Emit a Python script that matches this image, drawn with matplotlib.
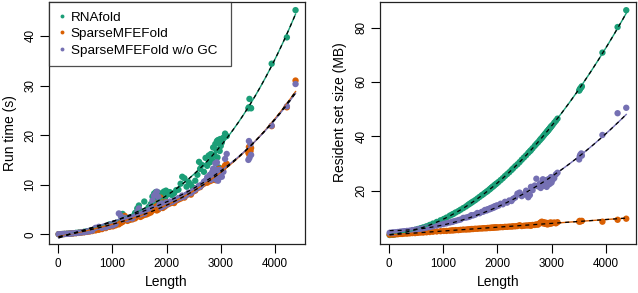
import numpy as np
import matplotlib
matplotlib.use("Agg")
import matplotlib.pyplot as plt
from matplotlib.lines import Line2D

plt.rcParams['font.family'] = ['Liberation Sans', 'DejaVu Sans']

# ---------------- data ----------------
lengths = [10, 60, 90, 120, 160, 200, 240, 280, 330, 380,
           430, 480, 530, 580, 630, 690, 750, 810, 880, 950,
           1010, 1060, 1120, 1160, 1190, 1230, 1280, 1320, 1370, 1420,
           1460, 1490, 1520, 1550, 1590, 1630, 1670, 1710, 1740, 1770,
           1800, 1820, 1850, 1870, 1890, 1910, 1930, 1950, 1970, 1990,
           2020, 2060, 2100, 2140, 2180, 2220, 2260, 2290, 2330, 2370,
           2410, 2450, 2490, 2530, 2570, 2600, 2620, 2650, 2690, 2720,
           2750, 2780, 2800, 2820, 2840, 2860, 2880, 2900, 2910, 2920,
           2930, 2940, 2950, 2960, 2970, 2980, 2990, 3000, 3020, 3050,
           3080, 3110, 3510, 3520, 3530, 3550, 3560, 3940, 4220, 4380]

runtime_rnafold = [0.02, 0.03, 0.05, 0.07, 0.10, 0.13, 0.17, 0.22, 0.28, 0.35,
                   0.42, 0.50, 0.60, 0.70, 0.80, 0.95, 1.10, 1.30, 1.60, 2.00,
                   1.8, 2.0, 2.3, 3.9, 4.1, 3.0, 3.2, 3.0, 3.5, 4.3,
                   5.2, 5.8, 4.6, 4.2, 6.6, 4.6, 5.5, 6.1, 7.6, 8.2,
                   8.5, 7.0, 8.4, 6.3, 7.4, 8.0, 6.8, 8.6, 7.2, 8.8,
                   8.0, 8.5, 7.9, 8.3, 8.9, 9.0, 10.2, 11.6, 11.3, 9.6,
                   10.5, 10.0, 9.4, 10.8, 12.0, 14.6, 13.2, 14.0, 12.6, 15.4,
                   13.8, 15.9, 14.5, 16.2, 15.0, 17.5, 16.0, 18.2, 12.5, 17.0,
                   18.8, 15.5, 19.0, 13.5, 18.5, 16.8, 19.2, 17.8, 18.5, 19.5,
                   20.3, 19.8, 25.4, 25.6, 27.3, 25.5, 25.4, 34.4, 39.7, 45.2]

runtime_sparse = [0.02, 0.03, 0.04, 0.06, 0.08, 0.10, 0.14, 0.18, 0.22, 0.28,
                  0.34, 0.40, 0.48, 0.56, 0.65, 0.78, 0.90, 1.05, 1.25, 1.50,
                  1.6, 1.8, 2.0, 2.3, 2.5, 3.7, 2.7, 2.9, 3.0, 3.2,
                  3.6, 4.4, 3.5, 3.7, 3.9, 4.0, 4.2, 4.4, 4.8, 5.2,
                  6.2, 4.8, 5.0, 5.3, 7.4, 5.5, 5.3, 5.8, 5.6, 6.5,
                  6.0, 6.2, 6.4, 6.3, 6.8, 7.0, 7.2, 7.5, 7.4, 7.9,
                  8.2, 8.0, 8.6, 8.8, 9.3, 9.6, 9.5, 9.9, 10.2, 10.6,
                  10.4, 11.0, 10.7, 11.5, 10.9, 11.8, 11.2, 12.2, 10.9, 12.4,
                  11.3, 12.9, 11.8, 12.0, 13.2, 11.6, 12.6, 12.0, 12.8, 13.4,
                  13.9, 14.2, 16.4, 17.6, 16.0, 16.8, 17.4, 21.8, 25.6, 31.0]

runtime_nogc = [0.02, 0.03, 0.05, 0.07, 0.09, 0.12, 0.15, 0.20, 0.25, 0.30,
                0.37, 0.44, 0.52, 0.62, 0.75, 1.30, 1.50, 1.30, 1.40, 1.70,
                1.8, 2.1, 4.2, 3.6, 3.0, 3.3, 3.0, 3.4, 3.2, 3.8,
                4.5, 5.2, 4.0, 4.4, 4.2, 4.8, 5.0, 5.6, 6.8, 7.8,
                8.2, 8.6, 7.5, 6.0, 5.4, 6.2, 5.6, 6.0, 5.8, 6.4,
                6.1, 6.6, 6.5, 6.8, 7.0, 7.3, 7.4, 7.8, 7.6, 8.0,
                8.4, 8.3, 8.7, 9.0, 9.4, 9.8, 9.6, 10.0, 10.6, 10.8,
                11.5, 11.2, 12.0, 11.0, 12.5, 13.2, 11.8, 14.3, 13.0, 11.0,
                14.5, 12.2, 10.8, 12.5, 11.4, 13.0, 11.8, 12.4, 11.6, 12.6,
                15.2, 16.2, 15.0, 18.8, 15.4, 18.2, 16.0, 21.9, 25.8, 30.3]

memory_rnafold = [3.7, 3.8, 3.9, 4.0, 4.1, 4.3, 4.4, 4.6, 4.8, 5.0,
                  5.3, 5.6, 5.9, 6.2, 6.5, 6.9, 7.4, 7.9, 8.5, 9.1,
                  9.6, 10.1, 10.8, 11.2, 11.5, 12.0, 12.5, 13.0, 13.6, 14.2,
                  14.8, 15.2, 15.6, 16.0, 16.5, 17.1, 17.7, 18.3, 18.7, 19.2,
                  19.6, 19.9, 20.4, 20.7, 21.1, 21.4, 21.7, 22.1, 22.4, 22.7,
                  23.2, 23.9, 24.6, 25.4, 26.1, 26.8, 27.6, 28.2, 29.0, 29.7,
                  30.5, 31.4, 32.2, 33.0, 33.9, 34.5, 34.9, 35.6, 36.5, 37.2,
                  37.8, 38.5, 39.0, 39.4, 39.9, 40.4, 40.9, 41.3, 41.6, 41.8,
                  42.0, 42.3, 42.5, 42.8, 43.0, 43.3, 43.5, 43.8, 44.2, 45.0,
                  45.7, 46.5, 56.8, 57.2, 57.6, 58.0, 58.4, 70.8, 80.2, 86.4]

memory_sparse = [3.8, 3.9, 3.9, 4.0, 4.0, 4.1, 4.1, 4.2, 4.2, 4.3,
                 4.4, 4.4, 4.5, 4.6, 4.6, 4.7, 4.8, 4.9, 5.0, 5.1,
                 5.2, 5.2, 5.3, 5.4, 5.4, 5.5, 5.5, 5.6, 5.7, 5.7,
                 5.8, 5.8, 5.9, 5.9, 6.0, 6.0, 6.1, 6.1, 6.2, 6.2,
                 6.2, 6.3, 6.3, 6.3, 6.4, 6.4, 6.4, 6.5, 6.5, 6.5,
                 6.5, 6.6, 6.6, 6.7, 6.7, 6.8, 6.8, 6.9, 6.9, 7.0,
                 7.3, 7.0, 7.1, 7.2, 7.2, 7.3, 7.1, 7.4, 7.4, 7.6,
                 7.5, 8.0, 8.3, 8.6, 8.0, 8.4, 7.8, 8.2, 7.7, 8.0,
                 7.6, 7.9, 8.1, 7.8, 8.2, 7.9, 8.3, 8.0, 8.1, 8.3,
                 8.0, 8.4, 8.6, 8.9, 8.7, 8.8, 8.9, 8.6, 9.3, 9.7]

memory_nogc = [4.5, 4.6, 4.6, 4.7, 4.8, 4.9, 5.0, 5.1, 5.2, 5.3,
               5.5, 5.6, 5.8, 5.9, 6.1, 6.4, 6.6, 6.9, 7.2, 7.5,
               7.8, 8.0, 8.3, 8.5, 8.7, 8.9, 9.2, 9.4, 10.0, 10.1,
               10.3, 10.5, 11.0, 10.9, 11.2, 11.8, 11.7, 12.2, 12.3, 12.9,
               12.7, 13.2, 13.1, 13.6, 13.4, 13.9, 13.7, 14.3, 14.1, 14.6,
               14.5, 15.2, 15.0, 15.9, 15.6, 16.4, 16.2, 17.0, 17.5, 18.9,
               19.3, 18.0, 18.6, 20.0, 17.6, 18.4, 21.4, 20.2, 21.9, 24.4,
               21.6, 22.5, 21.0, 23.0, 24.2, 21.8, 22.6, 23.8, 21.4, 24.0,
               22.8, 23.3, 22.3, 24.4, 22.6, 23.7, 25.0, 23.0, 24.0, 24.6,
               26.0, 26.6, 31.5, 32.6, 33.2, 33.7, 32.9, 40.5, 48.5, 50.5]

series_names = ["RNAfold", "SparseMFEFold", "SparseMFEFold w/o GC"]
colors = ["#1B9E77", "#D95F02", "#7570B3"]

x_ticks = [0, 1000, 2000, 3000, 4000]
runtime_yticks = [0, 10, 20, 30, 40]
memory_yticks = [20, 40, 60, 80]

# ---------------- figure ----------------
W, H = 638, 293
fig = plt.figure(figsize=(W / 100, H / 100), dpi=100)

def px_axes(x0, y0, x1, y1):
    return fig.add_axes([x0 / W, 1 - y1 / H, (x1 - x0) / W, (y1 - y0) / H])

ax1 = px_axes(49, 1.5, 305.3, 243.7)
ax2 = px_axes(380, 1.5, 636, 243.7)

L = np.array(lengths, dtype=float)
xfit = np.linspace(L.min(), L.max(), 300)

def draw_panel(ax, ys, degs):
    for y, c in zip(ys, colors):
        ax.scatter(L, y, s=21, color=c, edgecolors='none', zorder=2)
    for y, c, d in zip(ys, colors, degs):
        coef = np.polyfit(L, np.array(y, dtype=float), d)
        yf = np.polyval(coef, xfit)
        ax.plot(xfit, yf, color=c, lw=1.0, zorder=3)
        ax.plot(xfit, yf, color='black', lw=0.9, ls=(0, (3.2, 3.2)), zorder=4)

draw_panel(ax1, [runtime_rnafold, runtime_sparse, runtime_nogc], [3, 3, 3])
draw_panel(ax2, [memory_rnafold, memory_sparse, memory_nogc], [2, 1, 2])

for ax in (ax1, ax2):
    ax.set_xlim(-168, 4560)
    ax.set_xticks(x_ticks)
    ax.set_xticklabels([str(t) for t in x_ticks])
    ax.tick_params(axis='both', direction='out', length=6.5, width=0.8,
                   labelsize=8.4, colors='black')
    ax.tick_params(axis='x', pad=3.5)
    ax.tick_params(axis='y', pad=2.5)
    for sp in ax.spines.values():
        sp.set_linewidth(0.9)
        sp.set_color('#222222')
    ax.set_xlabel("Length", fontsize=10)

ax1.set_ylim(-1.9, 46.94)
ax1.set_yticks(runtime_yticks)
ax1.set_yticklabels([str(t) for t in runtime_yticks], rotation=90, va='center')
ax1.set_ylabel("Run time (s)", fontsize=10)

ax2.set_ylim(0.5, 89.6)
ax2.set_yticks(memory_yticks)
ax2.set_yticklabels([str(t) for t in memory_yticks], rotation=90, va='center')
ax2.set_ylabel("Resident set size (MB)", fontsize=10)

ax1.xaxis.set_label_coords((166 - 49) / 256.3, -0.128)
ax2.xaxis.set_label_coords((498 - 380) / 256.0, -0.128)
ax1.yaxis.set_label_coords(-0.125, 0.455)
ax2.yaxis.set_label_coords(-0.128, 0.545)

handles = [Line2D([], [], marker='o', ls='none', color=c, markersize=2.8,
                  markeredgewidth=0) for c in colors]
leg = ax1.legend(handles, series_names, loc='upper left',
                 bbox_to_anchor=(0, 1, (231 - 49) / 256.3, 0), mode='expand',
                 borderaxespad=0, fontsize=9.7, frameon=True, fancybox=False,
                 borderpad=0.72, handlelength=0.45, handletextpad=0.45,
                 labelspacing=0.3)
leg.get_frame().set_edgecolor('#222222')
leg.get_frame().set_linewidth(0.9)

fig.savefig("out.png", dpi=100)
